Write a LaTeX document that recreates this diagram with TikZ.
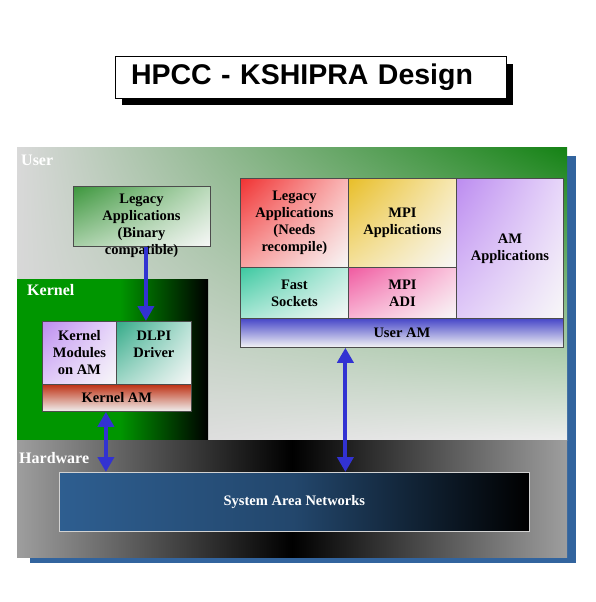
\documentclass[tikz,border=0pt]{standalone}
\usepackage{fontspec}
\setmainfont{Liberation Serif}
\newfontfamily\titlefont{Liberation Sans}
\usepackage{xcolor}
\usepackage{tikz}
\usetikzlibrary{arrows.meta,shadows,shadings,positioning}
\tikzset{>={Triangle[length=15pt,width=16pt]}}
\definecolor{arrowblue}{RGB}{50,50,210}
\definecolor{panelblue}{RGB}{50,100,158}
\definecolor{sanblue}{RGB}{46,94,144}
\definecolor{kgreen}{RGB}{0,150,0}
\definecolor{ugreen}{RGB}{20,130,20}
\definecolor{redA}{RGB}{240,50,50}
\definecolor{yellowA}{RGB}{232,190,40}
\definecolor{purpleA}{RGB}{188,140,240}
\definecolor{tealA}{RGB}{60,200,160}
\definecolor{pinkA}{RGB}{240,90,160}
\definecolor{greenA}{RGB}{60,150,60}
\definecolor{userAM}{RGB}{70,70,200}
\definecolor{kernAM}{RGB}{190,50,20}

\begin{document}
\begin{tikzpicture}[x=1pt,y=-1pt,
                    box/.style={draw=black!70, line width=0.8pt, anchor=north west, align=center,
                                inner sep=1pt, font=\fontsize{14.5}{17}\selectfont\bfseries},
                    tint/.style={shade, upper left=#1, upper right=#1!35!white,
                                 lower left=#1!45!white, lower right=gray!6},
                    region/.style={anchor=base west, text=white, inner sep=0pt,
                                   font=\fontsize{16}{18}\selectfont\bfseries},
                    link/.style={line width=4pt, arrowblue},
                   ]

\useasboundingbox (0,0) rectangle (596,602);

% title
\node[draw=black, line width=1pt, fill=white, minimum height=41, text width=359, inner xsep=16,
      align=left, font=\titlefont\fontsize{28.5}{30}\selectfont\bfseries,
      drop shadow={shadow xshift=7pt, shadow yshift=-7pt, fill=black, opacity=1}]
      (title) at (310.5,77.5) {HPCC - KSHIPRA Design};

% panel
\fill[panelblue] (30,156) rectangle (576,563);
\shade[upper left=gray!30, upper right=ugreen, lower left=gray!32, lower right=gray!14]
      (17,147) rectangle (567,440);
\fill[kgreen] (17,279) rectangle (208,440);
\shade[left color=kgreen, right color=black] (120,279) rectangle (208,440);
\shade[left color=black!38, right color=black!38, middle color=black] (17,440) rectangle (567,557);

\node[region] (user) at (21,165) {User};
\node[region] (kernel) at (27,295) {Kernel};
\node[region] (hw) at (19,463) {Hardware};

% user level
\node[box, tint=greenA, minimum width=137, minimum height=60] (legb) at (73,186) {};
\node[align=center, inner sep=0pt, font=\fontsize{14.5}{17}\selectfont\bfseries]
      (legbtext) at (141.5,226) {Legacy\\Applications\\(Binary\\compatible)};

\node[box, tint=redA, minimum width=108, minimum height=89] (legr) at (240,178) {Legacy\\Applications\\(Needs\\recompile)};
\node[box, tint=yellowA, minimum width=108, minimum height=89] (mpia) at (348,178) {MPI\\Applications};
\node[box, tint=purpleA, minimum width=107, minimum height=140] (ama) at (456,178) {AM\\Applications};
\node[box, tint=tealA, minimum width=108, minimum height=51] (fast) at (240,267) {Fast\\Sockets};
\node[box, tint=pinkA, minimum width=108, minimum height=51] (adi) at (348,267) {MPI\\ADI};
\node[box, shade, top color=userAM, bottom color=gray!8, minimum width=323, minimum height=29] (uam) at (240,318) {User AM};

% kernel level
\node[box, tint=purpleA, minimum width=74, minimum height=63] (kmod) at (42,321) {Kernel\\Modules\\on AM};
\node[box, tint=tealA!85!black, minimum width=75, minimum height=63] (dlpi) at (116,321) {DLPI\\Driver\\\mbox{}};
\node[box, shade, top color=kernAM, bottom color=gray!12, minimum width=149, minimum height=27] (kam) at (42,384) {Kernel AM};

% hardware
\node[box, draw=gray!35, text=white, left color=sanblue, right color=black, middle color=sanblue!75!black,
      minimum width=470, minimum height=59] (san) at (59,472) {System Area Networks};

\draw[link, ->] ([xshift=4pt]legb.south) -- ([xshift=4pt]legb.south |- dlpi.north);
\draw[link, <->] ([xshift=-11pt]kam.south) -- ([xshift=-11pt]kam.south |- san.north);
\draw[link, <->] ([xshift=-56.5pt]uam.south) -- ([xshift=-56.5pt]uam.south |- san.north);

\end{tikzpicture}
\end{document}
